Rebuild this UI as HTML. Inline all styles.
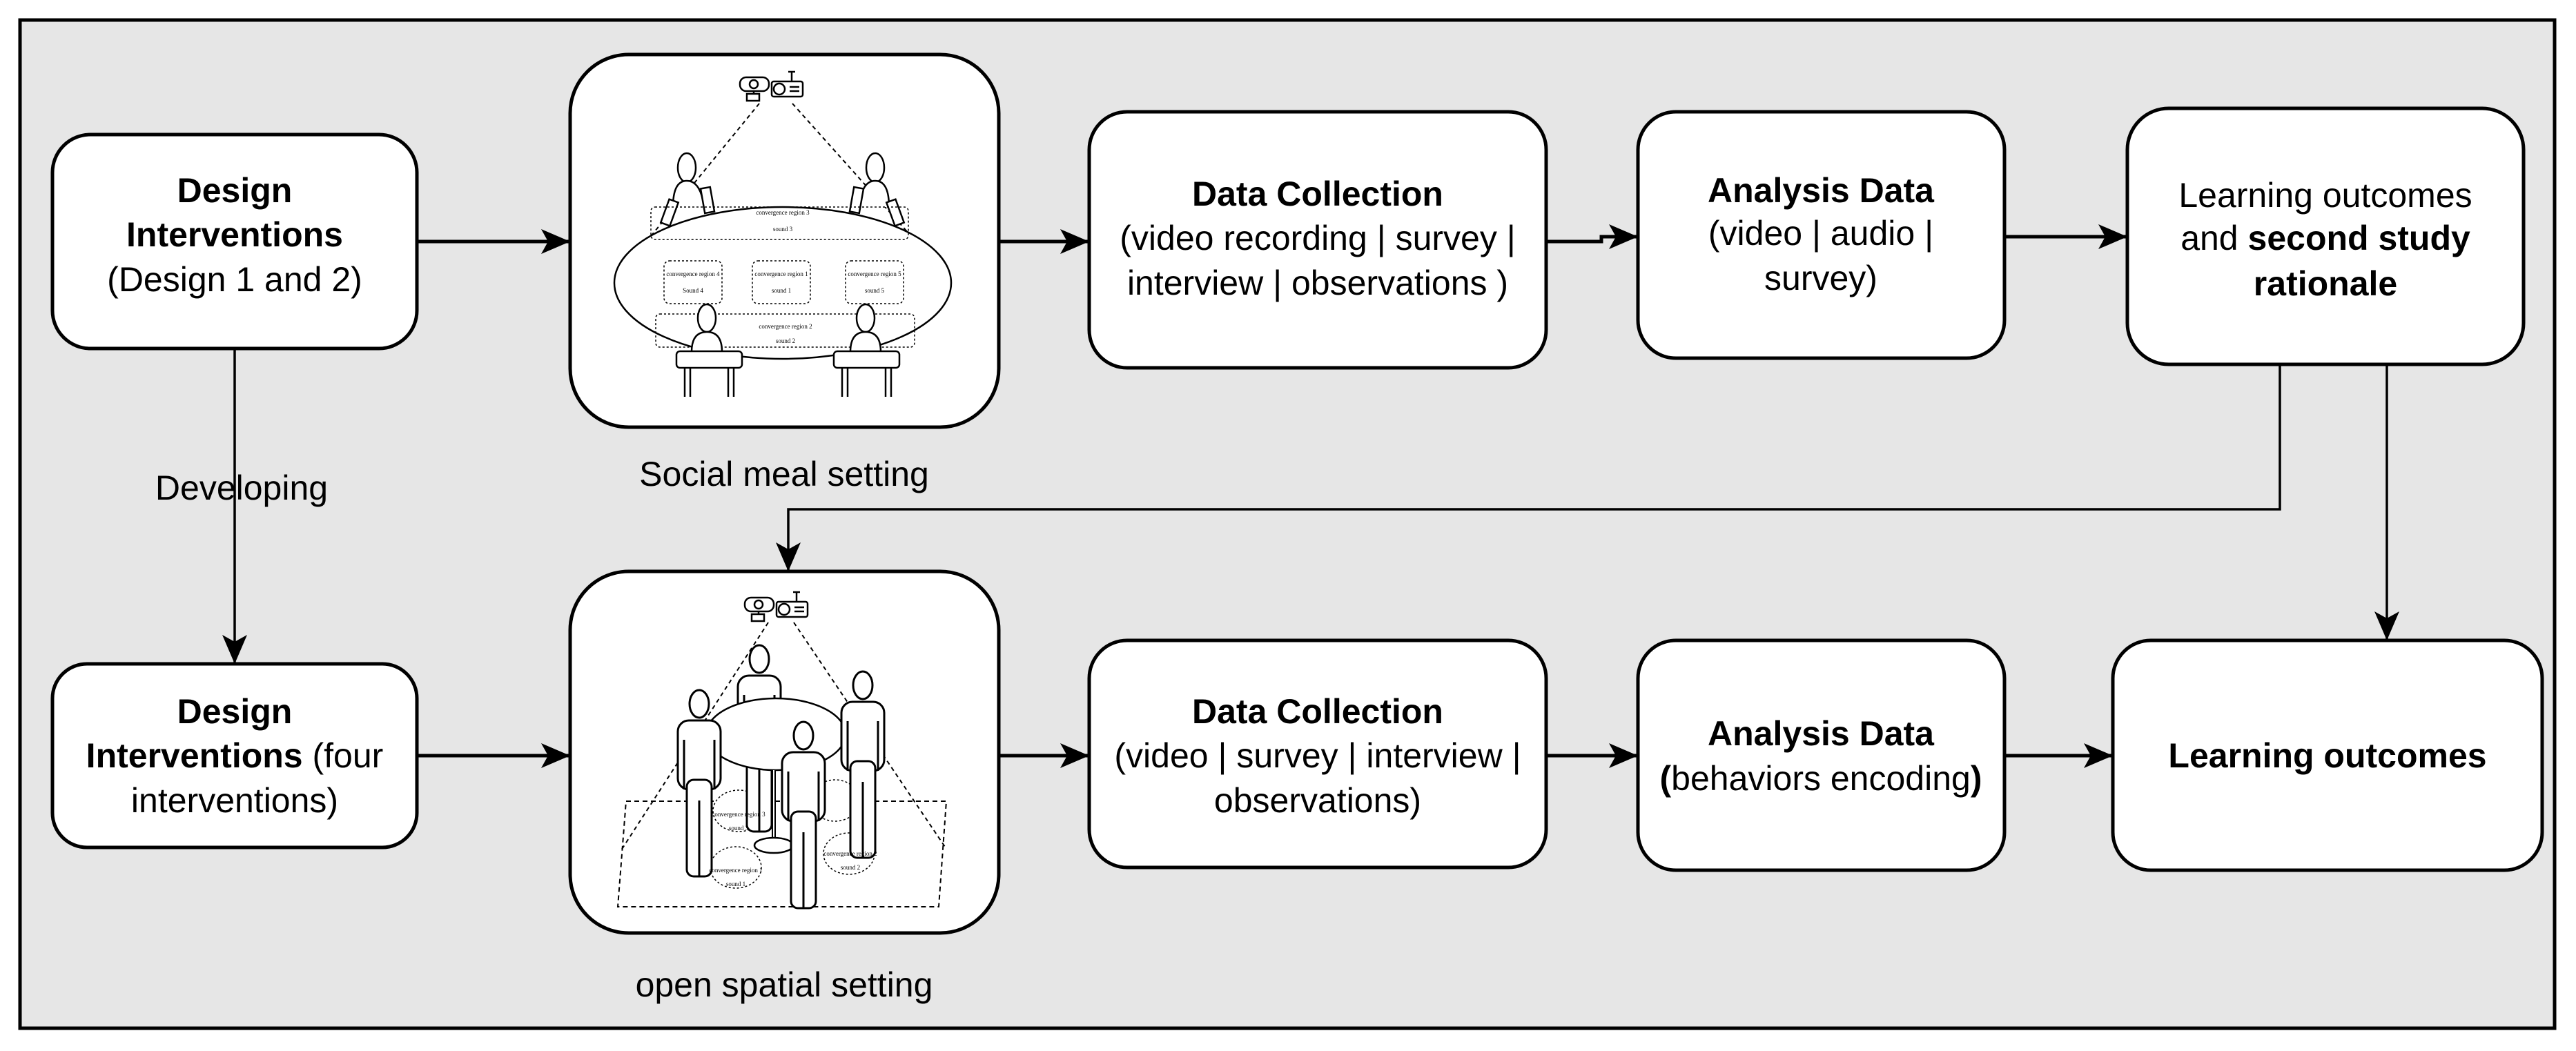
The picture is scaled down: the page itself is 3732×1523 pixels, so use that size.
<!DOCTYPE html>
<html><head><meta charset="utf-8"><style>
html,body{margin:0;padding:0;background:#fff;}
svg{display:block;}
text{font-family:"Liberation Sans Narrow","Liberation Sans",sans-serif;fill:#000;}
.t{font-size:50px;text-anchor:middle;}
.b{font-weight:bold;}
.s{font-family:"Liberation Serif",serif;font-size:9px;text-anchor:middle;}
</style></head><body>
<svg width="3732" height="1523" viewBox="0 0 3732 1523" xmlns="http://www.w3.org/2000/svg">
<defs>
<marker id="ar" markerWidth="44" markerHeight="36" refX="42" refY="18" orient="auto" markerUnits="userSpaceOnUse">
<path d="M0,0 L42,18 L0,36 L10,18 Z" fill="#000"/>
</marker>
<g id="pers" fill="#fff" stroke="#000" stroke-width="3">
<rect x="-31" y="24" width="62" height="100" rx="16"/>
<rect x="-18" y="110" width="36" height="140" rx="10"/>
<line x1="0" y1="140" x2="0" y2="250"/>
<line x1="-22" y1="52" x2="-22" y2="124"/>
<line x1="22" y1="52" x2="22" y2="124"/>
<ellipse cx="0" cy="0" rx="14" ry="20"/>
</g>
<g id="cam" fill="#fff" stroke="#000" stroke-width="2.5">
<rect x="0" y="8" width="42" height="20" rx="9"/>
<circle cx="20" cy="18" r="6"/>
<rect x="10" y="32" width="18" height="10"/>
<line x1="20" y1="28" x2="20" y2="32"/>
<rect x="46" y="14" width="45" height="22" rx="3"/>
<circle cx="57" cy="25" r="8"/>
<line x1="70" y1="0" x2="80" y2="0"/>
<line x1="75" y1="0" x2="75" y2="14"/>
<line x1="72" y1="22" x2="86" y2="22"/><line x1="72" y1="28" x2="86" y2="28"/>
</g>
</defs>
<rect x="0" y="0" width="3732" height="1523" fill="#fff"/>
<rect x="29" y="29" width="3672" height="1461" fill="#e6e6e6" stroke="#000" stroke-width="5"/>

<!-- connectors -->
<g stroke="#000" stroke-width="5" fill="none">
<line x1="604" y1="350" x2="826" y2="350" marker-end="url(#ar)"/>
<line x1="1447" y1="350" x2="1578" y2="350" marker-end="url(#ar)"/>
<polyline points="2240,350 2320,350 2320,343 2373,343" marker-end="url(#ar)"/>
<line x1="2904" y1="343" x2="3082" y2="343" marker-end="url(#ar)"/>
<line x1="604" y1="1095" x2="826" y2="1095" marker-end="url(#ar)"/>
<line x1="1447" y1="1095" x2="1578" y2="1095" marker-end="url(#ar)"/>
<line x1="2240" y1="1095" x2="2373" y2="1095" marker-end="url(#ar)"/>
<line x1="2904" y1="1095" x2="3061" y2="1095" marker-end="url(#ar)"/>
</g>
<g stroke="#000" stroke-width="3.5" fill="none">
<line x1="340" y1="505" x2="340" y2="962" marker-end="url(#ar)"/>
<polyline points="3303,528 3303,738 1142,738 1142,828" marker-end="url(#ar)"/>
<line x1="3458" y1="528" x2="3458" y2="928" marker-end="url(#ar)"/>
</g>
<text class="t" x="350" y="724">Developing</text>

<!-- boxes -->
<g fill="#fff" stroke="#000" stroke-width="5">
<rect x="76" y="195" width="528" height="310" rx="55"/>
<rect x="826" y="79" width="621" height="540" rx="85"/>
<rect x="1578" y="162" width="662" height="371" rx="55"/>
<rect x="2373" y="162" width="531" height="357" rx="55"/>
<rect x="3082" y="157" width="574" height="371" rx="60"/>
<rect x="76" y="962" width="528" height="266" rx="50"/>
<rect x="826" y="828" width="621" height="524" rx="85"/>
<rect x="1578" y="928" width="662" height="329" rx="55"/>
<rect x="2373" y="928" width="531" height="333" rx="55"/>
<rect x="3061" y="928" width="622" height="333" rx="55"/>
</g>

<text class="t b" x="340" y="293">Design</text>
<text class="t b" x="340" y="357">Interventions</text>
<text class="t" x="340" y="422">(Design 1 and 2)</text>

<text class="t b" x="1909" y="298">Data Collection</text>
<text class="t" x="1909" y="362">(video recording | survey |</text>
<text class="t" x="1909" y="427">interview | observations )</text>

<text class="t b" x="2638" y="293">Analysis Data</text>
<text class="t" x="2638" y="355">(video | audio |</text>
<text class="t" x="2638" y="420">survey)</text>

<text class="t" x="3369" y="300">Learning outcomes</text>
<text class="t" x="3369" y="362">and <tspan class="b">second study</tspan></text>
<text class="t b" x="3369" y="428">rationale</text>

<text class="t b" x="340" y="1048">Design</text>
<text class="t" x="340" y="1112"><tspan class="b">Interventions</tspan> (four</text>
<text class="t" x="340" y="1177">interventions)</text>

<text class="t b" x="1909" y="1048">Data Collection</text>
<text class="t" x="1909" y="1112">(video | survey | interview |</text>
<text class="t" x="1909" y="1177">observations)</text>

<text class="t b" x="2638" y="1080">Analysis Data</text>
<text class="t" x="2638" y="1145"><tspan class="b">(</tspan>behaviors encoding<tspan class="b">)</tspan></text>

<text class="t b" x="3372" y="1112">Learning outcomes</text>

<text class="t" x="1136" y="704">Social meal setting</text>
<text class="t" x="1136" y="1444">open spatial setting</text>

<!-- social meal illustration -->
<g stroke="#000" fill="none" stroke-width="2">
<use href="#cam" x="1072" y="104"/>
<g stroke-dasharray="6,5"><line x1="1100" y1="150" x2="890" y2="407"/><line x1="1148" y1="150" x2="1378" y2="407"/></g>
<g fill="#fff" stroke-width="2.5">
<ellipse cx="995" cy="243" rx="13" ry="21"/><path d="M975,300 Q975,262 995,262 Q1015,262 1020,300"/>
<rect x="963" y="290" width="14" height="36" transform="rotate(20 970 308)"/><rect x="1018" y="272" width="14" height="36" transform="rotate(-10 1025 290)"/>
<ellipse cx="1268" cy="243" rx="13" ry="21"/><path d="M1245,300 Q1248,262 1268,262 Q1288,262 1288,300"/>
<rect x="1234" y="272" width="14" height="36" transform="rotate(10 1241 290)"/><rect x="1290" y="290" width="14" height="36" transform="rotate(-20 1297 308)"/>
</g>
<ellipse cx="1134" cy="410" rx="244" ry="110" fill="#fff" stroke-width="2.5"/>
<g stroke-dasharray="3,3" stroke-width="1.5">
<rect x="943" y="300" width="373" height="47" rx="6"/>
<rect x="962" y="378" width="84" height="62" rx="8"/>
<rect x="1090" y="378" width="84" height="62" rx="8"/>
<rect x="1225" y="378" width="84" height="62" rx="8"/>
<rect x="950" y="455" width="375" height="48" rx="6"/>
</g>
<g fill="#fff" stroke-width="2.5">
<ellipse cx="1024" cy="461" rx="13" ry="20"/><path d="M1002,510 Q1002,481 1024,481 Q1046,481 1046,510"/>
<rect x="980" y="509" width="95" height="24" rx="5"/><line x1="992" y1="533" x2="992" y2="575"/><line x1="1000" y1="533" x2="1000" y2="575"/><line x1="1055" y1="533" x2="1055" y2="575"/><line x1="1063" y1="533" x2="1063" y2="575"/>
<ellipse cx="1254" cy="461" rx="13" ry="20"/><path d="M1232,510 Q1232,481 1254,481 Q1276,481 1276,510"/>
<rect x="1208" y="509" width="95" height="24" rx="5"/><line x1="1220" y1="533" x2="1220" y2="575"/><line x1="1228" y1="533" x2="1228" y2="575"/><line x1="1283" y1="533" x2="1283" y2="575"/><line x1="1291" y1="533" x2="1291" y2="575"/>
</g>
</g>
<g>
<text class="s" x="1134" y="311">convergence region 3</text><text class="s" x="1134" y="335">sound 3</text>
<text class="s" x="1004" y="400">convergence region 4</text><text class="s" x="1004" y="424">Sound 4</text>
<text class="s" x="1132" y="400">convergence region 1</text><text class="s" x="1132" y="424">sound 1</text>
<text class="s" x="1267" y="400">convergence region 5</text><text class="s" x="1267" y="424">sound 5</text>
<text class="s" x="1138" y="476">convergence region 2</text><text class="s" x="1138" y="497">sound 2</text>
</g>

<!-- open spatial illustration -->
<g stroke="#000" fill="none" stroke-width="2">
<use href="#cam" x="1079" y="858"/>
<polygon points="907,1161 1371,1161 1360,1314 895,1314" stroke-dasharray="7,5"/>
<g stroke-dasharray="6,5"><line x1="1113" y1="902" x2="900" y2="1232"/><line x1="1150" y1="902" x2="1369" y2="1227"/></g>
<g fill="#fff" stroke-dasharray="3,3" stroke-width="1.5">
<ellipse cx="1070" cy="1175" rx="37" ry="30"/>
<ellipse cx="1210" cy="1160" rx="35" ry="30"/>
<ellipse cx="1230" cy="1237" rx="37" ry="30"/>
<ellipse cx="1066" cy="1257" rx="37" ry="30"/>
</g>
<use href="#pers" x="1100" y="955"/>
<ellipse cx="1124" cy="1064" rx="101" ry="52" fill="#fff" stroke-width="2.5"/>
<line x1="1121" y1="1116" x2="1121" y2="1220" stroke-width="6"/>
<line x1="1121" y1="1116" x2="1121" y2="1220" stroke="#fff" stroke-width="2"/>
<ellipse cx="1121" cy="1225" rx="28" ry="11" fill="#fff" stroke-width="2.5"/>
<use href="#pers" x="1013" y="1020"/>
<use href="#pers" x="1250" y="993"/>
<use href="#pers" x="1164" y="1066"/>
</g>
<g>
<text class="s" x="1070" y="1183">convergence region 3</text><text class="s" x="1070" y="1203">sound 3</text>
<text class="s" x="1232" y="1240">convergence region 2</text><text class="s" x="1232" y="1260">sound 2</text>
<text class="s" x="1066" y="1264">convergence region 1</text><text class="s" x="1066" y="1284">sound 1</text>
</g>
</svg>
</body></html>
